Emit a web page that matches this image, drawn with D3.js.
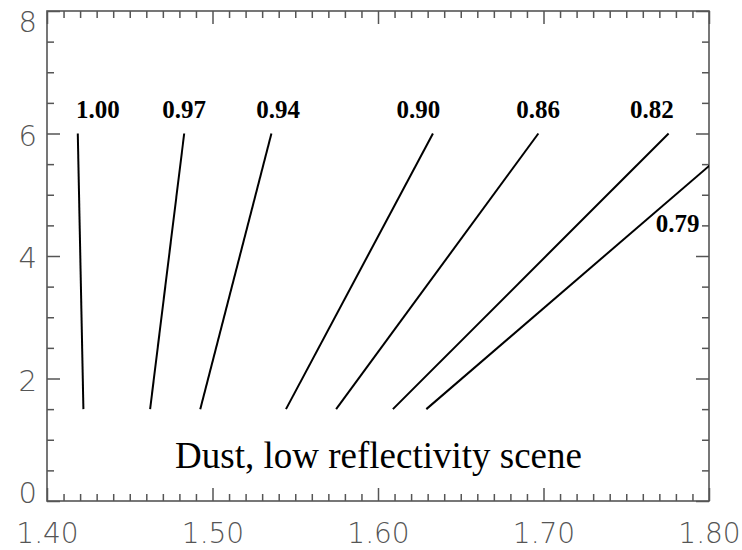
<!DOCTYPE html>
<html>
<head>
<meta charset="utf-8">
<script src="https://cdn.jsdelivr.net/npm/d3@7"></script>
<style>
  html, body { margin: 0; padding: 0; background: #fff; }
  svg { display: block; }
  .tick-label { font-family: "DejaVu Sans", sans-serif; font-weight: 200; fill: #555; }
</style>
</head>
<body>
<svg id="chart" width="742" height="550"></svg>
<script>
// Contour levels and the end points of each contour segment
const contourLevels = ["1.00", "0.97", "0.94", "0.90", "0.86", "0.82", "0.79"];
const xAtLow  = [1.4220, 1.4623, 1.4926, 1.5444, 1.5747, 1.6090, 1.6292];
const xAtHigh = [1.4186, 1.4829, 1.5356, 1.6332, 1.6969, 1.7756, 1.8228];
const yLow  = [1.5, 1.5, 1.5, 1.5, 1.5, 1.5, 1.5];
const yHigh = [6.0, 6.0, 6.0, 6.0, 6.0, 6.0, 6.0];

// Where each level's label sits (data units, left edge / baseline)
const labelX = [1.4175, 1.4696, 1.5265, 1.6112, 1.6836, 1.7522, 1.7679];
const labelY = [6.26, 6.26, 6.26, 6.26, 6.26, 6.26, 4.40];

// Axis ticks
const xTickValues = [1.40, 1.50, 1.60, 1.70, 1.80];
const xTickLabels = ["1.40", "1.50", "1.60", "1.70", "1.80"];
const yTickValues = [0, 2, 4, 6, 8];
const yTickLabels = ["0", "2", "4", "6", "8"];
const xDomain = [1.40, 1.80];
const yDomain = [0, 8];
const caption = "Dust, low reflectivity scene";

const svg = d3.select("#chart");
const L = 47, R = 709, T = 11, B = 501;

const x = d3.scaleLinear().domain(xDomain).range([L, R]);
const y = d3.scaleLinear().domain(yDomain).range([B, T]);

const axisColor = "#555";
const majorLen = 13, minorLen = 7;

const xMinor = d3.range(0, 41).map(i => xDomain[0] + i * 0.01).filter(v => !xTickValues.some(t => Math.abs(t - v) < 1e-9));
const yMinor = d3.range(0, 17).map(i => i * 0.5).filter(v => !yTickValues.includes(v));

function styleAxis(g) {
  g.select(".domain").remove();
  g.selectAll(".tick line").attr("stroke", axisColor).attr("stroke-width", 1.5);
}

// Bottom axis: inward ticks, labels below
svg.append("g").attr("transform", `translate(0,${B})`)
  .call(d3.axisBottom(x).tickValues(xMinor).tickSizeInner(-minorLen).tickSizeOuter(0).tickFormat(""))
  .call(styleAxis);
const gx = svg.append("g").attr("transform", `translate(0,${B})`)
  .call(d3.axisBottom(x).tickValues(xTickValues).tickSizeInner(-majorLen).tickSizeOuter(0)
    .tickPadding(22).tickFormat((d, i) => xTickLabels[i]))
  .call(styleAxis);
gx.selectAll("text").attr("class", "tick-label").attr("font-size", 28);

// Top axis: inward ticks only
svg.append("g").attr("transform", `translate(0,${T})`)
  .call(d3.axisTop(x).tickValues(xMinor).tickSizeInner(-minorLen).tickSizeOuter(0).tickFormat(""))
  .call(styleAxis);
svg.append("g").attr("transform", `translate(0,${T})`)
  .call(d3.axisTop(x).tickValues(xTickValues).tickSizeInner(-majorLen).tickSizeOuter(0).tickFormat(""))
  .call(styleAxis);

// Left axis: inward ticks, labels to the left
svg.append("g").attr("transform", `translate(${L},0)`)
  .call(d3.axisLeft(y).tickValues(yMinor).tickSizeInner(-minorLen).tickSizeOuter(0).tickFormat(""))
  .call(styleAxis);
const gy = svg.append("g").attr("transform", `translate(${L},0)`)
  .call(d3.axisLeft(y).tickValues(yTickValues).tickSizeInner(-majorLen).tickSizeOuter(0)
    .tickPadding(10).tickFormat((d, i) => yTickLabels[i]))
  .call(styleAxis);
gy.selectAll("text").attr("class", "tick-label").attr("font-size", 29)
  .attr("dy", d => d === yDomain[1] ? "0.72em" : d === yDomain[0] ? "0.05em" : "0.4em");

// Right axis: inward ticks only
svg.append("g").attr("transform", `translate(${R},0)`)
  .call(d3.axisRight(y).tickValues(yMinor).tickSizeInner(-minorLen).tickSizeOuter(0).tickFormat(""))
  .call(styleAxis);
svg.append("g").attr("transform", `translate(${R},0)`)
  .call(d3.axisRight(y).tickValues(yTickValues).tickSizeInner(-majorLen).tickSizeOuter(0).tickFormat(""))
  .call(styleAxis);

// Plot frame
svg.append("rect").attr("x", L).attr("y", T).attr("width", R - L).attr("height", B - T)
  .attr("fill", "none").attr("stroke", axisColor).attr("stroke-width", 1.6);

// Clip region for the contours
svg.append("clipPath").attr("id", "plot-clip")
  .append("rect").attr("x", L).attr("y", T).attr("width", R - L).attr("height", B - T);

const line = d3.line().x(d => x(d[0])).y(d => y(d[1]));
const contours = contourLevels.map((lvl, i) => ({
  level: lvl,
  pts: [[xAtLow[i], yLow[i]], [xAtHigh[i], yHigh[i]]]
}));

svg.append("g").attr("clip-path", "url(#plot-clip)")
  .selectAll("path").data(contours).join("path")
  .attr("d", d => line(d.pts))
  .attr("fill", "none").attr("stroke", "#000").attr("stroke-width", 2);

// Level labels
svg.append("g").selectAll("text").data(contourLevels).join("text")
  .attr("x", (d, i) => x(labelX[i]))
  .attr("y", (d, i) => y(labelY[i]))
  .attr("font-family", "'Liberation Serif', 'Times New Roman', serif")
  .attr("font-weight", "bold").attr("font-size", 25).attr("fill", "#000")
  .text(d => d);

// Caption
svg.append("text")
  .attr("x", 378.5).attr("y", 468)
  .attr("text-anchor", "middle")
  .attr("font-family", "'Liberation Serif', 'Times New Roman', serif")
  .attr("font-size", 37).attr("fill", "#000")
  .text(caption);
</script>
</body>
</html>
